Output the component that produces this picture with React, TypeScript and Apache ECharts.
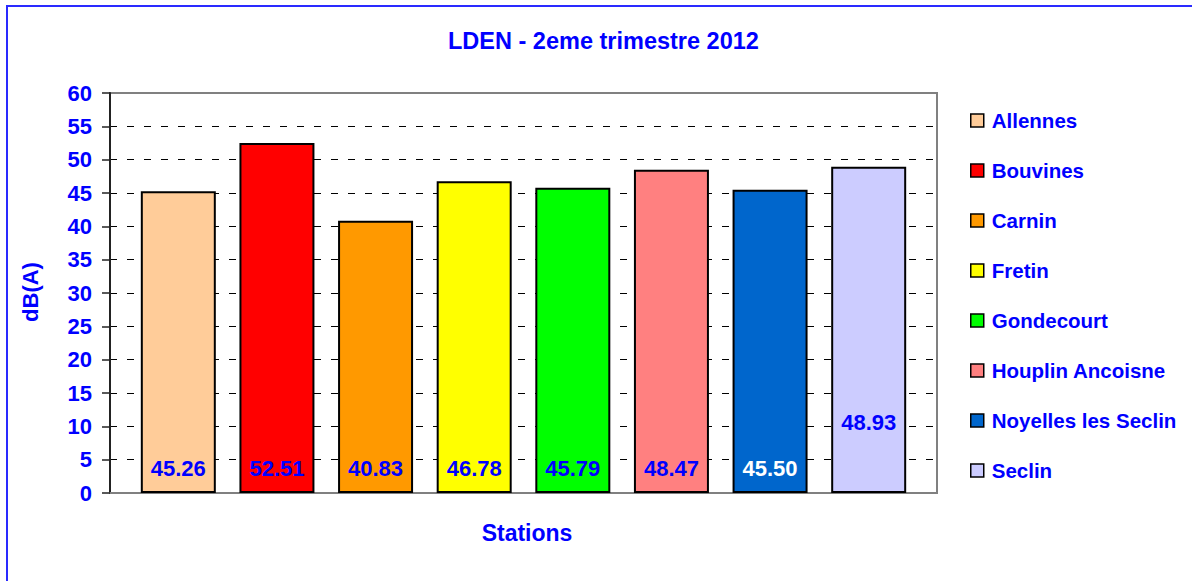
import React, { useEffect, useRef } from "react";
import * as echarts from "echarts";

const stations = [
  "Allennes",
  "Bouvines",
  "Carnin",
  "Fretin",
  "Gondecourt",
  "Houplin Ancoisne",
  "Noyelles les Seclin",
  "Seclin",
];
const values = [45.26, 52.51, 40.83, 46.78, 45.79, 48.47, 45.5, 48.93];
const colors = ["#FFCC99", "#FF0000", "#FF9900", "#FFFF00", "#00FF00", "#FF8080", "#0066CC", "#CCCCFF"];
const labelColors = ["#0000FF", "#0000FF", "#0000FF", "#0000FF", "#0000FF", "#0000FF", "#FFFFFF", "#0000FF"];
const labelDistances = [14, 14, 14, 14, 14, 14, 14, 60];
const titleText = "LDEN - 2eme trimestre 2012";
const yName = "dB(A)";
const xName = "Stations";

const FONT = "'Liberation Sans', Arial, sans-serif";
const BLUE = "#0000FF";

export default function App() {
  const ref = useRef<HTMLDivElement>(null);
  useEffect(() => {
    if (!ref.current) return;
    const chart = echarts.init(ref.current, null, { renderer: "svg" });
    const series = stations.map((name, i) => ({
      name,
      type: "bar",
      data: [values[i]],
      barWidth: 75,
      barGap: "31.5%",
      itemStyle: { color: colors[i], borderColor: "#000", borderWidth: 2 },
      label: {
        show: true,
        position: "insideBottom",
        distance: labelDistances[i],
        formatter: (p: any) => Number(p.value).toFixed(2),
        color: labelColors[i],
        fontSize: 22,
        fontWeight: "bold",
        fontFamily: FONT,
      },
    }));
    chart.setOption({
      animation: false,
      backgroundColor: "#fff",
      title: {
        text: titleText,
        left: 443,
        top: 24,
        textStyle: { color: BLUE, fontSize: 23.5, fontWeight: "bold", fontFamily: FONT },
      },
      grid: {
        left: 110,
        top: 93,
        width: 827,
        height: 400,
        show: true,
        borderColor: "#808080",
        borderWidth: 2,
        containLabel: false,
      },
      legend: {
        orient: "vertical",
        left: 965,
        top: 105,
        itemWidth: 13,
        itemHeight: 13,
        itemGap: 29,
        icon: "rect",
        itemStyle: { borderColor: "#000", borderWidth: 1.5 },
        textStyle: { color: BLUE, fontSize: 20.5, fontWeight: "bold", fontFamily: FONT, padding: [0, 0, 0, 3] },
        data: stations,
      },
      xAxis: {
        type: "category",
        data: [""],
        axisLine: { show: true, lineStyle: { color: "#808080", width: 2 } },
        axisTick: { show: false },
        axisLabel: { show: false },
        splitLine: { show: false },
      },
      yAxis: {
        type: "value",
        min: 0,
        max: 60,
        interval: 5,
        axisLine: { show: true, lineStyle: { color: "#222", width: 2 } },
        axisTick: { show: true, length: 8, lineStyle: { color: "#222", width: 1.5 } },
        axisLabel: { margin: 18, color: BLUE, fontSize: 22, fontWeight: "bold", fontFamily: FONT },
        splitLine: {
          show: true,
          showMinLine: false,
          showMaxLine: false,
          lineStyle: { color: "#000", width: 1, type: [7, 10] },
        },
      },
      graphic: [
        {
          type: "rect",
          shape: { x: 7, y: 6, width: 1300, height: 700 },
          style: { fill: "none", stroke: "#2a2aff", lineWidth: 2 },
          silent: true,
        },
        {
          type: "text",
          x: 30,
          y: 292,
          rotation: Math.PI / 2,
          style: {
            text: yName,
            fill: BLUE,
            font: `bold 22px ${FONT}`,
            textAlign: "center",
            textVerticalAlign: "middle",
          },
        },
        {
          type: "text",
          x: 527,
          y: 533,
          style: {
            text: xName,
            fill: BLUE,
            font: `bold 23px ${FONT}`,
            textAlign: "center",
            textVerticalAlign: "middle",
          },
        },
      ],
      series,
    });
    return () => chart.dispose();
  }, []);
  return (
    <div
      ref={ref}
      style={{ position: "fixed", left: 0, top: 0, width: 1192, height: 581 }}
    />
  );
}
